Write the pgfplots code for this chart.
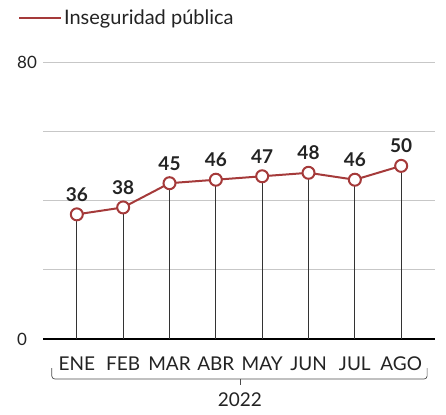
\documentclass[border=0pt]{standalone}
\usepackage{fontspec}
\setmainfont{Lato}
\usepackage{pgfplots}
\pgfplotsset{compat=1.18}
\definecolor{serie}{RGB}{165,58,58}
\definecolor{texto}{RGB}{35,35,35}

\begin{document}
\begin{tikzpicture}[x=1pt,y=1pt]
\path[use as bounding box] (0,0) rectangle (446,414);
\begin{axis}[
    at={(43pt,75pt)}, anchor=south west,
    scale only axis, width=392pt, height=277pt,
    xmin=-0.73, xmax=7.73, ymin=0, ymax=80,
    clip=false,
    axis x line=bottom, axis y line=left,
    x axis line style={black, line width=2.2pt, -},
    y axis line style={draw=none},
    major tick length=0pt,
    xtick={0,...,7},
    xticklabels={ENE,FEB,MAR,ABR,MAY,JUN,JUL,AGO},
    xticklabel style={anchor=north, inner sep=0pt, yshift=-18pt,
        font=\fontsize{19}{19}\selectfont, text=texto},
    ytick={0,20,40,60,80},
    yticklabels={0,,,,80},
    yticklabel style={anchor=west, inner sep=0pt, xshift=-26pt,
        font=\fontsize{17}{17}\selectfont, text=texto},
    ymajorgrids, grid style={black!22, line width=0.6pt},
    legend style={at={(axis description cs:-0.064,1.159)}, anchor=west,
        draw=none, fill=none, inner sep=0pt,
        font=\fontsize{20}{20}\selectfont, text=texto},
    legend cell align=left,
    legend image code/.code={\draw[#1] (0pt,0pt) -- (34pt,0pt);
        \path (0pt,0pt) -- (42pt,0pt);},
]
% drop lines
\addplot[ycomb, draw=black!80, line width=0.9pt, mark=none, forget plot]
    coordinates {(0,36) (1,38) (2,45) (3,46) (4,47) (5,48) (6,46) (7,50)};
% main series
\addplot[serie, line width=2pt, mark=*, mark size=6pt,
    mark options={fill=white, line width=2pt},
    nodes near coords={\pgfmathprintnumber[assume math mode=true]{\pgfplotspointmeta}},
    every node near coord/.style={anchor=south, inner sep=0pt, yshift=12pt,
        font=\fontsize{19}{19}\selectfont\bfseries, text=texto}]
    coordinates {(0,36) (1,38) (2,45) (3,46) (4,47) (5,48) (6,46) (7,50)};
\addlegendentry{Inseguridad pública}
% year brace
\draw[black!70, line width=0.7pt, rounded corners=3pt]
    (axis cs:-0.54,-8.4) -- (axis cs:-0.54,-11.55) -- (axis cs:7.56,-11.55) -- (axis cs:7.56,-8.4);
\draw[black!70, line width=0.7pt] (axis cs:3.52,-11.55) -- (axis cs:3.52,-13.3);
\node[anchor=north, inner sep=0pt, font=\fontsize{19}{19}\selectfont, text=texto]
    at (axis cs:3.52,-15.6) {2022};
\end{axis}
\end{tikzpicture}
\end{document}
